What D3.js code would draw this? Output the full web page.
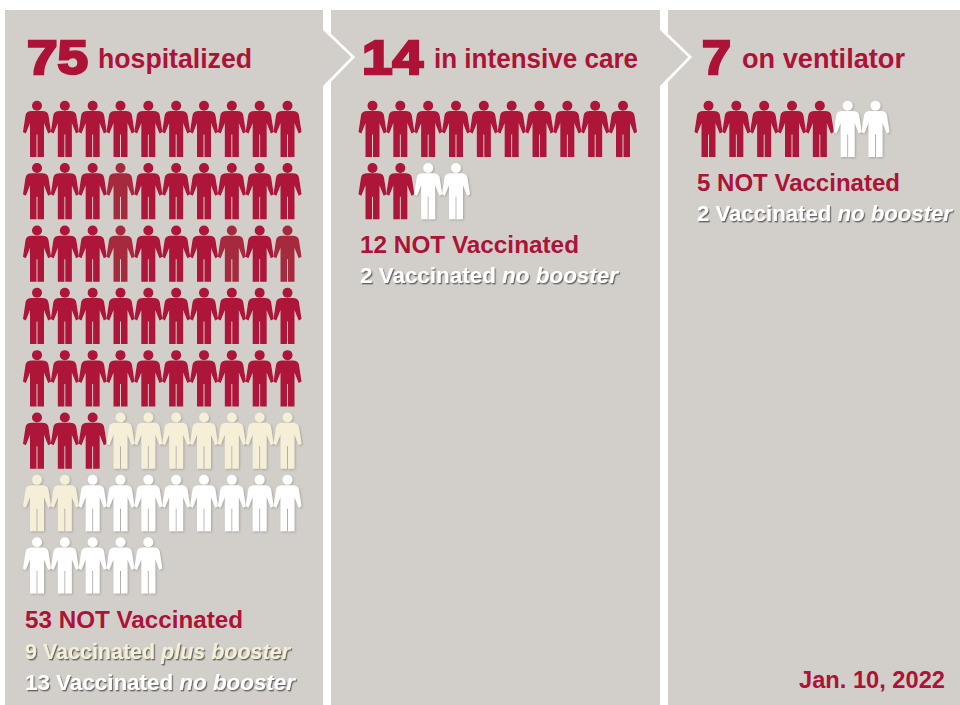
<!DOCTYPE html>
<html><head><meta charset="utf-8">
<script src="https://cdn.jsdelivr.net/npm/d3@7"></script>
<style>html,body{margin:0;padding:0;background:#fff}svg{display:block}text{font-family:"Liberation Sans",Arial,sans-serif;font-weight:700}</style>
</head><body><svg id="c" width="960" height="705"></svg>
<script>
const panelNames = ["hospitalized", "in intensive care", "on ventilator"];
const panelTotals = [75, 14, 7];
const notVaccinated = [53, 12, 5];
const plusBooster = [9, 0, 0];
const noBooster = [13, 2, 2];
const legendNot = ["53 NOT Vaccinated", "12 NOT Vaccinated", "5 NOT Vaccinated"];
const legendPlus = [["9 Vaccinated ", "plus booster"], null, null];
const legendNo = [["13 Vaccinated ", "no booster"], ["2 Vaccinated ", "no booster"], ["2 Vaccinated ", "no booster"]];
const fadedIcons = [13, 23, 27, 29];
const dateLabel = "Jan. 10, 2022";

const RED = "#ad1237", FADED = "#a52a3c", CREAM = "#f4efd6", WHITE = "#ffffff", BG = "#d2cfca";
const svg = d3.select("#c");

const defs = svg.append("defs");
const sh = defs.append("filter").attr("id", "sh").attr("x", "-10%").attr("y", "-10%").attr("width", "125%").attr("height", "125%");
sh.append("feDropShadow").attr("dx", 1.2).attr("dy", 1.4).attr("stdDeviation", 0.6).attr("flood-color", "#5f5c58").attr("flood-opacity", 0.9);
const ish = defs.append("filter").attr("id", "ish").attr("x", "-15%").attr("y", "-10%").attr("width", "135%").attr("height", "125%");
ish.append("feDropShadow").attr("dx", 1).attr("dy", 1).attr("stdDeviation", 0.8).attr("flood-color", "#8a8783").attr("flood-opacity", 0.6);
const blur = defs.append("filter").attr("id", "soft");
blur.append("feGaussianBlur").attr("stdDeviation", 0.4);

// panel outlines, drawn right to left so each arrow sits on the next panel
const left = [5, 331, 668], right = [323, 660, 960];
const top_ = 10, bottom = 705;
const line = d3.line();
[2, 1, 0].forEach(i => {
  const pts = i < 2
    ? [[left[i], top_], [right[i], top_], [right[i], 30], [right[i] + 28, 57], [right[i], 86], [right[i], bottom], [left[i], bottom]]
    : [[left[i], top_], [right[i], top_], [right[i], bottom], [left[i], bottom]];
  if (i < 2) {
    svg.append("path").attr("d", line([[right[i] + 2, 30], [right[i] + 30, 57], [right[i] + 2, 86]]))
      .attr("fill", "none").attr("stroke", "#fff").attr("stroke-width", 3);
  }
  svg.append("path").attr("d", line(pts) + "Z").attr("fill", BG);
});

// figure glyph in a 28 x 57 box
const figure = "M9 10.5H19C22.8 10.5 24.8 11.8 25.4 14.5L28 31.5L25.2 33L21 22.5V56.5H14.5V34H13.5V56.5H7V22.5L2.8 33L0 31.5L2.6 14.5C3.2 11.8 5.2 10.5 9 10.5Z";
const colX = d3.scaleLinear().domain([0, 9]).range([0, 250.5]);
const rowY = d3.scaleLinear().domain([0, 7]).range([100.5, 537]);
const iconLeft = [23, 358.5, 694.5];

function drawIcon(g, x, y, fill, shadow) {
  const s = g.append("g").attr("transform", `translate(${x},${y})`).attr("filter", shadow ? "url(#ish)" : "url(#soft)");
  s.append("circle").attr("cx", 14).attr("cy", 5.2).attr("r", 5).attr("fill", fill);
  s.append("path").attr("d", figure).attr("fill", fill);
}

panelTotals.forEach((total, p) => {
  const g = svg.append("g");
  const cats = [
    ...d3.range(notVaccinated[p]).map(() => RED),
    ...d3.range(plusBooster[p]).map(() => CREAM),
    ...d3.range(noBooster[p]).map(() => WHITE)
  ];
  cats.forEach((fill, i) => {
    const f = (p === 0 && fadedIcons.includes(i)) ? FADED : fill;
    drawIcon(g, iconLeft[p] + colX(i % 10), rowY(Math.floor(i / 10)), f, fill !== RED);
  });
});

// headlines
const numX = [27, 362, 702], nameX = [98, 434, 742], numW = [61, 61, 29], nameW = [154, 204, 163];
panelTotals.forEach((t, p) => {
  svg.append("text").attr("x", numX[p]).attr("y", 74).text(t)
    .attr("fill", RED).attr("stroke", RED).attr("stroke-width", 2.6)
    .attr("font-size", 49).attr("textLength", numW[p]).attr("lengthAdjust", "spacingAndGlyphs");
  svg.append("text").attr("x", nameX[p]).attr("y", 68).text(panelNames[p])
    .attr("fill", RED).attr("font-size", 27).attr("textLength", nameW[p]).attr("lengthAdjust", "spacingAndGlyphs");
});

// legends
const legendX = [25, 360, 697];
const notY = [628, 253, 191];
const plusY = [659, null, null];
const noY = [690, 283, 221];
const notW = [218, 219, 203], noW = [270, 258, 255], plusW = [265];
function vacc(x, y, parts, fill, w) {
  const t = svg.append("text").attr("x", x).attr("y", y).attr("fill", fill).attr("font-size", 22)
    .attr("filter", "url(#sh)").attr("textLength", w).attr("lengthAdjust", "spacingAndGlyphs");
  t.append("tspan").text(parts[0]);
  t.append("tspan").attr("font-style", "italic").text(parts[1]);
}
legendNot.forEach((s, p) => {
  svg.append("text").attr("x", legendX[p]).attr("y", notY[p]).text(s).attr("fill", RED)
    .attr("font-size", 23).attr("textLength", notW[p]).attr("lengthAdjust", "spacingAndGlyphs");
  if (legendPlus[p]) vacc(legendX[p], plusY[p], legendPlus[p], CREAM, plusW[p]);
  vacc(legendX[p], noY[p], legendNo[p], WHITE, noW[p]);
});

svg.append("text").attr("x", 799).attr("y", 688).text(dateLabel)
  .attr("fill", RED).attr("font-size", 23).attr("textLength", 146).attr("lengthAdjust", "spacingAndGlyphs");
</script></body></html>
